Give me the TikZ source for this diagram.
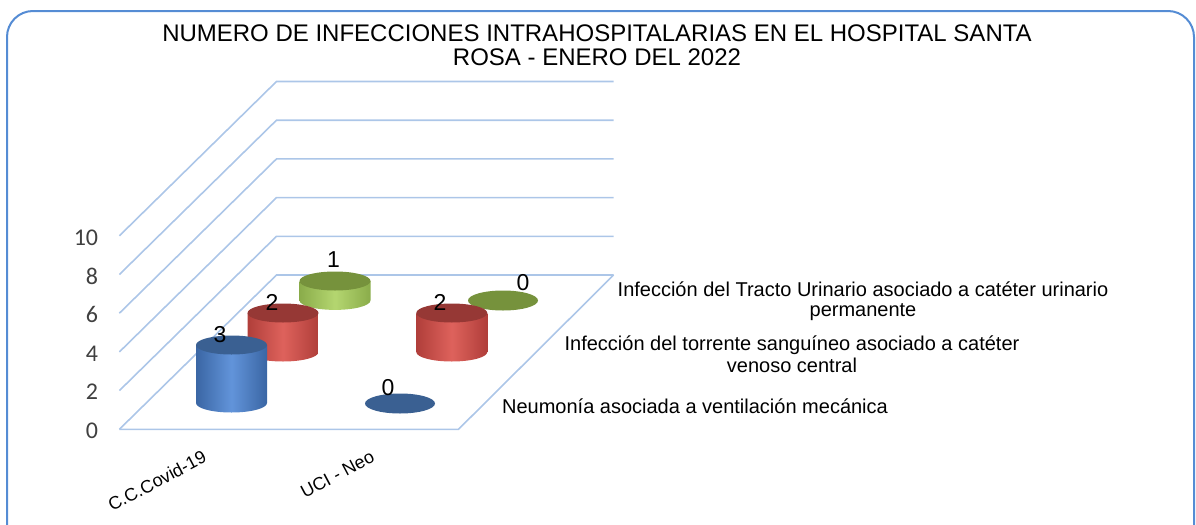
\documentclass[tikz,border=0pt]{standalone}
\usepackage{fontspec}
\setmainfont{Liberation Sans}
\newfontfamily\axisfont{Carlito}
\usepackage{tikz}

\definecolor{frameblue}{RGB}{85,140,212}
\definecolor{gridblue}{RGB}{172,198,232}
\definecolor{axisgray}{RGB}{64,64,64}
\definecolor{bluedark}{RGB}{58,102,164}
\definecolor{bluelight}{RGB}{98,148,218}
\definecolor{bluetop}{RGB}{58,96,146}
\definecolor{reddark}{RGB}{176,62,58}
\definecolor{redlight}{RGB}{222,98,92}
\definecolor{redtop}{RGB}{150,56,53}
\definecolor{greendark}{RGB}{138,172,74}
\definecolor{greenlight}{RGB}{180,214,112}
\definecolor{greentop}{RGB}{118,146,60}

% cylinder: centre x, bottom y, top y, side dark, side light, top colour
\newcommand{\cyl}[6]{%
  \shade[left color=#4,right color=#4,middle color=#5]
    ({#1-35.5},#3) -- ({#1-35.5},#2) arc[start angle=180,end angle=0,x radius=35.5,y radius=9.5]
    -- ({#1+35.5},#3) -- cycle;
  \fill[#6] (#1,#3) ellipse[x radius=35.5,y radius=9.5];
}

\begin{document}
\begin{tikzpicture}[x=0.5pt,y=-0.5pt]
      \useasboundingbox (0,0) rectangle (1196,525);
      \clip (0,0) rectangle (1196,525);
      \draw[frameblue,line width=1pt,rounded corners=13pt] (7,11) rectangle (1194,560);
      \node[align=center,font=\fontsize{12}{12}\selectfont] (title) at (597,45)
        {NUMERO DE INFECCIONES INTRAHOSPITALARIAS EN EL HOSPITAL SANTA\\ROSA - ENERO DEL 2022};
      % walls and floor
      \foreach \k in {0,...,5}
        \draw[gridblue,line width=0.8pt] (119.4,{429.3-38.7*\k}) -- (276.5,{275-38.7*\k}) -- (613.6,{275-38.7*\k});
      \draw[gridblue,line width=0.8pt] (119.4,429.3) -- (458.5,429.3) -- (613.6,275);
      \foreach \v [count=\k from 0] in {0,2,...,10}
        \node[anchor=east,inner sep=0pt,text=axisgray,font=\axisfont\fontsize{12}{12}\selectfont] (y\v) at (98.5,{429.3-38.7*\k+1.5}) {\v};
      % bars, back row first
      \cyl{335}{300.4}{281}{greendark}{greenlight}{greentop}
      \fill[greentop] (503,300.5) ellipse[x radius=35,y radius=10];
      \cyl{283}{352}{313}{reddark}{redlight}{redtop}
      \cyl{451.8}{352}{313}{reddark}{redlight}{redtop}
      \cyl{231.5}{403}{345}{bluedark}{bluelight}{bluetop}
      \fill[bluetop] (400,403.5) ellipse[x radius=35,y radius=10];
      % value labels
      \begin{scope}[font=\fontsize{11.5}{11.5}\selectfont]
      \node (v1) at (333.5,260) {1};
      \node (v2) at (272,302) {2};
      \node (v3) at (220,335) {3};
      \node (v4) at (523,283) {0};
      \node (v5) at (440,302) {2};
      \node (v6) at (388,388) {0};
      \end{scope}
      % series names
      \begin{scope}[font=\fontsize{10}{10}\selectfont]
      \node[align=center] (s3) at (863,301)
        {Infección del Tracto Urinario asociado a catéter urinario\\permanente};
      \node[align=center,font=\fontsize{10}{11}\selectfont] (s2) at (792,354)
        {Infección del torrente sanguíneo asociado a catéter\\venoso central};
      \node (s1) at (695,406) {Neumonía asociada a ventilación mecánica};
      \end{scope}
      % categories
      \node[rotate=28,anchor=base east,inner sep=0pt,font=\fontsize{9}{9}\selectfont] (c1) at (208,461) {C.C.Covid-19};
      \node[rotate=28,anchor=base east,inner sep=0pt,font=\fontsize{9}{9}\selectfont] (c2) at (376,461) {UCI - Neo};
    \end{tikzpicture}
\end{document}
